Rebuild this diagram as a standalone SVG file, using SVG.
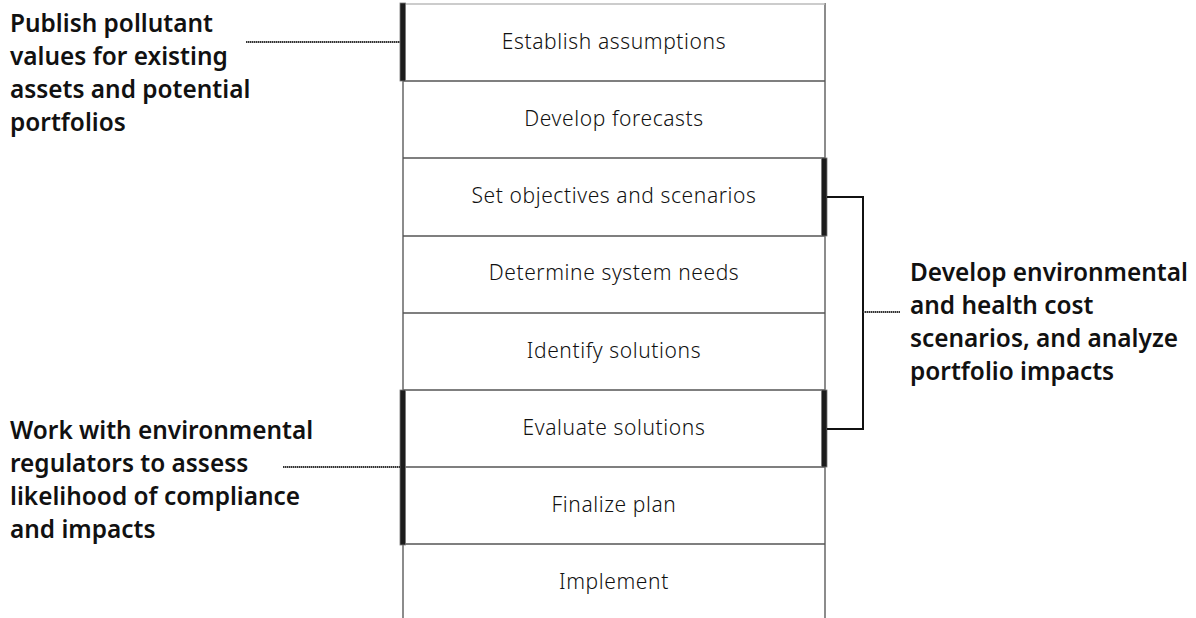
<svg xmlns="http://www.w3.org/2000/svg" width="1196" height="618" viewBox="0 0 1196 618">
  <style>
    .step { font-family: "Noto Sans", "Liberation Sans", sans-serif; font-weight: 300; font-size: 21px; letter-spacing: 0.6px; fill: #111; text-anchor: middle; }
    .note { font-family: "Noto Sans", "Liberation Sans", sans-serif; font-weight: 600; font-size: 24.4px; fill: #111; }
    .sep { stroke: #555; stroke-width: 1.3; }
    .rail { stroke: #666; stroke-width: 1.5; fill: none; }
    .bar { fill: #1c1c1c; stroke: #777; stroke-width: 0.8; }
    .lead { stroke: #333; stroke-width: 2; stroke-dasharray: 1.5 0.5; fill: none; }
    .brace { stroke: #111; stroke-width: 2; fill: none; }
  </style>
  <rect width="1196" height="618" fill="#fff"/>

  <!-- process column frame -->
  <g id="frame">
    <line class="rail" x1="403" y1="4" x2="403" y2="618"/>
    <line class="rail" x1="825" y1="3" x2="825" y2="618"/>
    <line x1="403" y1="4" x2="825" y2="4" stroke="#bbb" stroke-width="1.5"/>
  </g>

  <g id="step-1"><text class="step" x="614" y="49">Establish assumptions</text></g>
  <g id="step-2"><line class="sep" x1="403" y1="81" x2="825" y2="81"/><text class="step" x="614" y="126">Develop forecasts</text></g>
  <g id="step-3"><line class="sep" x1="403" y1="158" x2="825" y2="158"/><text class="step" x="614" y="203">Set objectives and scenarios</text></g>
  <g id="step-4"><line class="sep" x1="403" y1="236" x2="825" y2="236"/><text class="step" x="614" y="280">Determine system needs</text></g>
  <g id="step-5"><line class="sep" x1="403" y1="313" x2="825" y2="313"/><text class="step" x="614" y="358">Identify solutions</text></g>
  <g id="step-6"><line class="sep" x1="403" y1="390" x2="825" y2="390"/><text class="step" x="614" y="435">Evaluate solutions</text></g>
  <g id="step-7"><line class="sep" x1="403" y1="467" x2="825" y2="467"/><text class="step" x="614" y="512">Finalize plan</text></g>
  <g id="step-8"><line class="sep" x1="403" y1="544" x2="825" y2="544"/><text class="step" x="614" y="589">Implement</text></g>

  <!-- span markers along the column edges -->
  <g id="markers">
    <rect class="bar" x="400" y="3" width="5.5" height="78"/>
    <rect class="bar" x="400" y="390" width="5.5" height="155"/>
    <rect class="bar" x="821.5" y="158" width="5.5" height="78"/>
    <rect class="bar" x="821.5" y="390" width="5.5" height="77"/>
  </g>

  <g id="connectors">
    <line class="lead" x1="246" y1="42" x2="400" y2="42"/>
    <line class="lead" x1="283" y1="467" x2="400" y2="467"/>
    <path class="brace" d="M827 197 H863 V429 H827"/>
    <line class="lead" x1="863" y1="312" x2="900" y2="312"/>
  </g>

  <g id="note-publish">
    <text class="note" x="10" y="32">Publish pollutant</text>
    <text class="note" x="10" y="65">values for existing</text>
    <text class="note" x="10" y="98">assets and potential</text>
    <text class="note" x="10" y="131">portfolios</text>
  </g>
  <g id="note-regulators">
    <text class="note" x="10" y="439">Work with environmental</text>
    <text class="note" x="10" y="472">regulators to assess</text>
    <text class="note" x="10" y="505">likelihood of compliance</text>
    <text class="note" x="10" y="538">and impacts</text>
  </g>
  <g id="note-costs">
    <text class="note" x="910" y="281">Develop environmental</text>
    <text class="note" x="910" y="314">and health cost</text>
    <text class="note" x="910" y="347">scenarios, and analyze</text>
    <text class="note" x="910" y="380">portfolio impacts</text>
  </g>
</svg>
